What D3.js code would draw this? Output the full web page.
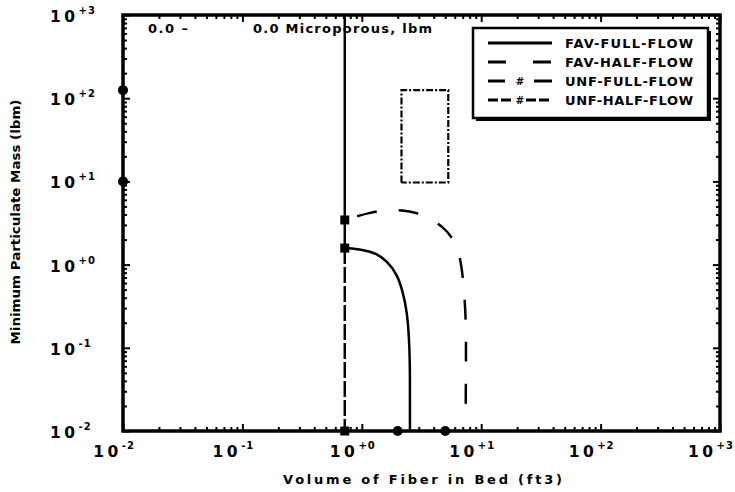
<!DOCTYPE html>
<html><head><meta charset="utf-8">
<script src="https://cdn.jsdelivr.net/npm/d3@7"></script>
<style>
body{margin:0;background:#fff;}
svg{display:block;}
text{font-family:"DejaVu Sans",Arial,sans-serif;font-weight:bold;fill:#000;}
</style></head><body>
<svg id="c" width="735" height="492"></svg>
<script>
// ---- data ----
const xDecades = [-2, -1, 0, 1, 2, 3];
const yDecades = [-2, -1, 0, 1, 2, 3];
const xExpLabels = ["-2", "-1", "+0", "+1", "+2", "+3"];
const yExpLabels = ["-2", "-1", "+0", "+1", "+2", "+3"];

const seriesNames = ["FAV-FULL-FLOW", "FAV-HALF-FLOW", "UNF-FULL-FLOW", "UNF-HALF-FLOW"];

// vertical line at the start volume
const vertX = 0.72;
const vertSolidY = [1000, 1.58];
const vertDashY = [1.58, 0.01];

// FAV-FULL-FLOW curve
const favFullX = [0.72, 1.02, 1.34, 1.62, 1.97, 2.21, 2.39, 2.48, 2.53, 2.53, 2.53];
const favFullY = [1.58, 1.52, 1.36, 1.10, 0.78, 0.47, 0.27, 0.143, 0.067, 0.03, 0.01];

// FAV-HALF-FLOW curve
const favHalfX = [0.72, 1.17, 1.72, 2.53, 3.52, 4.79, 5.80, 6.64, 7.04, 7.31, 7.46, 7.46, 7.40];
const favHalfY = [3.44, 4.25, 4.60, 4.45, 3.80, 2.85, 2.09, 1.30, 0.69, 0.355, 0.173, 0.067, 0.012];

// UNF box (dash-dot rectangle)
const boxX = [2.15, 5.3];
const boxY = [9.7, 125];

// markers
const squareX = [0.72, 0.72, 0.72];
const squareY = [3.44, 1.58, 0.01];
const circleX = [0.01, 0.01, 2.0, 5.0];
const circleY = [125, 10, 0.01, 0.01];

// ---- layout ----
const svg = d3.select("#c");
const L = 123, R = 720, T = 15, B = 431;
const x = d3.scaleLog().domain([1e-2, 1e3]).range([L, R]);
const y = d3.scaleLog().domain([1e-2, 1e3]).range([B, T]);

function minorTicks(){
  const t = [];
  for (let e = -2; e < 3; e++) for (let m = 2; m <= 9; m++) t.push(m * Math.pow(10, e));
  return t;
}
const majors = xDecades.map(e => Math.pow(10, e));
const minors = minorTicks();

function styleAxis(g){
  g.select(".domain").remove();
  g.selectAll("text").remove();
  g.selectAll("line").attr("stroke", "#000").attr("stroke-width", 2);
}
svg.append("g").attr("transform", `translate(0,${B})`).call(d3.axisBottom(x).tickValues(minors).tickSize(-4)).call(styleAxis);
svg.append("g").attr("transform", `translate(0,${B})`).call(d3.axisBottom(x).tickValues(majors).tickSize(-7)).call(styleAxis);
svg.append("g").attr("transform", `translate(0,${T})`).call(d3.axisTop(x).tickValues(minors).tickSize(-4)).call(styleAxis);
svg.append("g").attr("transform", `translate(0,${T})`).call(d3.axisTop(x).tickValues(majors).tickSize(-7)).call(styleAxis);
svg.append("g").attr("transform", `translate(${L},0)`).call(d3.axisLeft(y).tickValues(minors).tickSize(-4)).call(styleAxis);
svg.append("g").attr("transform", `translate(${L},0)`).call(d3.axisLeft(y).tickValues(majors).tickSize(-7)).call(styleAxis);
svg.append("g").attr("transform", `translate(${R},0)`).call(d3.axisRight(y).tickValues(minors).tickSize(-4)).call(styleAxis);
svg.append("g").attr("transform", `translate(${R},0)`).call(d3.axisRight(y).tickValues(majors).tickSize(-7)).call(styleAxis);

svg.append("rect").attr("x", L).attr("y", T).attr("width", R - L).attr("height", B - T)
  .attr("fill", "none").attr("stroke", "#000").attr("stroke-width", 3.5);

// tick labels
xDecades.forEach((e, i) => {
  const t = svg.append("text").attr("x", x(Math.pow(10, e)) - 9).attr("y", 457)
    .attr("text-anchor", "middle").attr("font-size", 15.5).attr("letter-spacing", 3.5);
  t.append("tspan").text("10");
  t.append("tspan").attr("dy", -8).attr("font-size", 10).attr("letter-spacing", 1).text(xExpLabels[i]);
});
yDecades.forEach((e, i) => {
  const t = svg.append("text").attr("x", 50).attr("y", y(Math.pow(10, e)) + 7)
    .attr("text-anchor", "start").attr("font-size", 15.5).attr("letter-spacing", 3.5);
  t.append("tspan").text("10");
  t.append("tspan").attr("dy", -8).attr("font-size", 10).attr("letter-spacing", 1).text(yExpLabels[i]);
});

// axis titles
svg.append("text").attr("x", 283).attr("y", 484).attr("text-anchor", "start")
  .attr("font-size", 13).attr("textLength", 279).attr("lengthAdjust", "spacing")
  .text("Volume  of  Fiber  in  Bed  (ft3)");
svg.append("text").attr("transform", "translate(20,222) rotate(-90)").attr("text-anchor", "middle")
  .attr("font-size", 12).attr("textLength", 245).attr("lengthAdjust", "spacingAndGlyphs")
  .text("Minimum Particulate Mass (lbm)");

// header text
svg.append("text").attr("x", 148).attr("y", 33).attr("font-size", 13).attr("letter-spacing", 1.5).text("0.0  \u2013");
svg.append("text").attr("x", 253).attr("y", 33).attr("font-size", 13).attr("textLength", 179).attr("lengthAdjust", "spacing").text("0.0 Microporous,  lbm");

// lines
const line = d3.line().x(d => x(d[0])).y(d => y(d[1]));
const curve = d3.line().x(d => x(d[0])).y(d => y(d[1])).curve(d3.curveBasis);

svg.append("path").datum(vertSolidY.map(v => [vertX, v])).attr("d", line)
  .attr("fill", "none").attr("stroke", "#000").attr("stroke-width", 2.5);
svg.append("path").datum(vertDashY.map(v => [vertX, v])).attr("d", line)
  .attr("fill", "none").attr("stroke", "#000").attr("stroke-width", 2.5).attr("stroke-dasharray", "16,3");

svg.append("path").datum(favFullX.map((v, i) => [v, favFullY[i]])).attr("d", curve)
  .attr("fill", "none").attr("stroke", "#000").attr("stroke-width", 2.5);
svg.append("path").datum(favHalfX.map((v, i) => [v, favHalfY[i]])).attr("d", curve)
  .attr("fill", "none").attr("stroke", "#000").attr("stroke-width", 2.5).attr("stroke-dasharray", "0,13,20,9");

// dash-dot box
const boxPts = [[boxX[0], boxY[0]], [boxX[0], boxY[1]], [boxX[1], boxY[1]], [boxX[1], boxY[0]], [boxX[0], boxY[0]]];
svg.append("path").datum(boxPts).attr("d", line)
  .attr("fill", "none").attr("stroke", "#000").attr("stroke-width", 2.2).attr("stroke-dasharray", "7,2,2,2");

// markers
svg.selectAll(".sq").data(squareX.map((v, i) => [v, squareY[i]])).enter().append("rect")
  .attr("x", d => x(d[0]) - 4.5).attr("y", d => y(d[1]) - 4.5).attr("width", 9).attr("height", 9).attr("fill", "#000");
svg.selectAll(".ci").data(circleX.map((v, i) => [v, circleY[i]])).enter().append("circle")
  .attr("cx", d => x(d[0])).attr("cy", d => y(d[1])).attr("r", 5).attr("fill", "#000");

// legend
const lg = svg.append("g");
lg.append("rect").attr("x", 476).attr("y", 31).attr("width", 235).attr("height", 90).attr("fill", "#000");
lg.append("rect").attr("x", 473).attr("y", 28).attr("width", 235).attr("height", 90).attr("fill", "#fff")
  .attr("stroke", "#000").attr("stroke-width", 2.5);
const rowY = [43, 62, 81, 100];
const dashes = [null, "18,27", null, null];
seriesNames.forEach((n, i) => {
  const yy = rowY[i];
  const lx0 = 488, lx1 = 552;
  if (i === 2) {
    lg.append("line").attr("x1", lx0).attr("x2", lx0 + 17).attr("y1", yy).attr("y2", yy).attr("stroke", "#000").attr("stroke-width", 3);
    lg.append("line").attr("x1", lx1 - 18).attr("x2", lx1).attr("y1", yy).attr("y2", yy).attr("stroke", "#000").attr("stroke-width", 3);
    lg.append("text").attr("x", 520).attr("y", yy + 4).attr("text-anchor", "middle").attr("font-size", 10).text("#");
  } else if (i === 3) {
    lg.append("line").attr("x1", lx0).attr("x2", lx0 + 26).attr("y1", yy).attr("y2", yy).attr("stroke", "#000").attr("stroke-width", 3).attr("stroke-dasharray", "10,3");
    lg.append("line").attr("x1", lx1 - 26).attr("x2", lx1).attr("y1", yy).attr("y2", yy).attr("stroke", "#000").attr("stroke-width", 3).attr("stroke-dasharray", "10,3");
    lg.append("text").attr("x", 520).attr("y", yy + 4).attr("text-anchor", "middle").attr("font-size", 10).text("#");
  } else {
    const l = lg.append("line").attr("x1", lx0).attr("x2", lx1).attr("y1", yy).attr("y2", yy).attr("stroke", "#000").attr("stroke-width", 3);
    if (dashes[i]) l.attr("stroke-dasharray", dashes[i]);
  }
  lg.append("text").attr("x", 565).attr("y", yy + 5).attr("font-size", 13).attr("textLength", 128).attr("lengthAdjust", "spacing").text(n);
});
</script>
</body></html>
